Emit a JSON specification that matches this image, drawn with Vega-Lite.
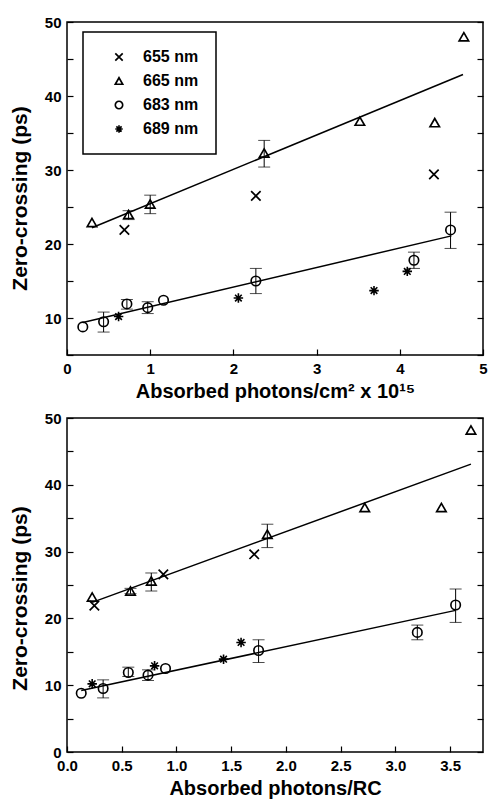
{
  "$schema": "https://vega.github.io/schema/vega-lite/v6.json",
  "background": "white",
  "padding": {"left": 8, "top": 14, "right": 0, "bottom": 3},
  "bounds": "flush",
  "spacing": 63,
  "datasets": {
    "ptsA": [
      {"series": "655 nm", "x": 0.69, "y": 21.9},
      {"series": "655 nm", "x": 2.27, "y": 26.5},
      {"series": "655 nm", "x": 4.41, "y": 29.4},
      {"series": "665 nm", "x": 0.30, "y": 22.9},
      {"series": "665 nm", "x": 0.74, "y": 24.0, "lo": 23.3, "hi": 24.5},
      {"series": "665 nm", "x": 1.00, "y": 25.4, "lo": 24.1, "hi": 26.6},
      {"series": "665 nm", "x": 2.37, "y": 32.3, "lo": 30.4, "hi": 34.0},
      {"series": "665 nm", "x": 3.52, "y": 36.6},
      {"series": "665 nm", "x": 4.42, "y": 36.4},
      {"series": "665 nm", "x": 4.77, "y": 48.0},
      {"series": "683 nm", "x": 0.19, "y": 8.8},
      {"series": "683 nm", "x": 0.44, "y": 9.5, "lo": 8.1, "hi": 10.8},
      {"series": "683 nm", "x": 0.72, "y": 11.9, "lo": 11.2, "hi": 12.5},
      {"series": "683 nm", "x": 0.97, "y": 11.4, "lo": 10.6, "hi": 12.2},
      {"series": "683 nm", "x": 1.16, "y": 12.4},
      {"series": "683 nm", "x": 2.27, "y": 15.0, "lo": 13.3, "hi": 16.7},
      {"series": "683 nm", "x": 4.17, "y": 17.8, "lo": 16.7, "hi": 18.9},
      {"series": "683 nm", "x": 4.61, "y": 21.9, "lo": 19.4, "hi": 24.3},
      {"series": "689 nm", "x": 0.62, "y": 10.2},
      {"series": "689 nm", "x": 2.06, "y": 12.7},
      {"series": "689 nm", "x": 3.69, "y": 13.7},
      {"series": "689 nm", "x": 4.09, "y": 16.3}
    ],
    "ptsB": [
      {"series": "655 nm", "x": 0.25, "y": 21.9},
      {"series": "655 nm", "x": 0.88, "y": 26.6},
      {"series": "655 nm", "x": 1.71, "y": 29.6},
      {"series": "665 nm", "x": 0.23, "y": 23.2},
      {"series": "665 nm", "x": 0.58, "y": 24.1, "lo": 23.7, "hi": 24.5},
      {"series": "665 nm", "x": 0.77, "y": 25.6, "lo": 24.1, "hi": 26.8},
      {"series": "665 nm", "x": 1.83, "y": 32.6, "lo": 30.6, "hi": 34.1},
      {"series": "665 nm", "x": 2.72, "y": 36.6},
      {"series": "665 nm", "x": 3.42, "y": 36.6},
      {"series": "665 nm", "x": 3.69, "y": 48.2},
      {"series": "683 nm", "x": 0.13, "y": 8.8},
      {"series": "683 nm", "x": 0.33, "y": 9.5, "lo": 8.1, "hi": 10.8},
      {"series": "683 nm", "x": 0.56, "y": 11.9, "lo": 11.3, "hi": 12.7},
      {"series": "683 nm", "x": 0.74, "y": 11.5, "lo": 10.7, "hi": 12.3},
      {"series": "683 nm", "x": 0.90, "y": 12.5},
      {"series": "683 nm", "x": 1.75, "y": 15.2, "lo": 13.4, "hi": 16.8},
      {"series": "683 nm", "x": 3.20, "y": 17.9, "lo": 16.8, "hi": 19.0},
      {"series": "683 nm", "x": 3.55, "y": 22.0, "lo": 19.4, "hi": 24.4},
      {"series": "689 nm", "x": 0.23, "y": 10.2},
      {"series": "689 nm", "x": 0.80, "y": 12.9},
      {"series": "689 nm", "x": 1.43, "y": 13.9},
      {"series": "689 nm", "x": 1.59, "y": 16.4}
    ],
    "linesA": [
      {"pool": "blue", "x": 0.30, "y": 22.2},
      {"pool": "blue", "x": 4.76, "y": 42.9},
      {"pool": "red", "x": 0.19, "y": 9.4},
      {"pool": "red", "x": 4.62, "y": 21.1}
    ],
    "linesB": [
      {"pool": "blue", "x": 0.23, "y": 22.4},
      {"pool": "blue", "x": 3.69, "y": 43.1},
      {"pool": "red", "x": 0.13, "y": 9.2},
      {"pool": "red", "x": 3.55, "y": 21.2}
    ]
  },
  "vconcat": [
    {
      "width": 416,
      "height": 333,
      "layer": [
        {
          "data": {"name": "linesA"},
          "mark": {"type": "line", "color": "black", "strokeWidth": 1.5},
          "encoding": {
            "x": {"field": "x", "type": "quantitative", "scale": {"domain": [0, 5], "nice": false}},
            "y": {"field": "y", "type": "quantitative", "scale": {"domain": [5, 50], "nice": false},
                  "axis": {"orient": "right", "labels": false, "title": null, "values": [5,10,15,20,25,30,35,40,45,50]}},
            "detail": {"field": "pool"}
          }
        },
        {
          "data": {"name": "ptsA"},
          "transform": [{"filter": "isValid(datum.lo)"}],
          "mark": {"type": "rule", "color": "black", "strokeWidth": 1},
          "encoding": {
            "x": {"field": "x", "type": "quantitative"},
            "y": {"field": "lo", "type": "quantitative", "axis": null},
            "y2": {"field": "hi"}
          }
        },
        {
          "data": {"name": "ptsA"},
          "transform": [{"filter": "isValid(datum.lo)"}],
          "mark": {"type": "tick", "orient": "horizontal", "color": "black", "size": 12, "thickness": 1},
          "encoding": {
            "x": {"field": "x", "type": "quantitative"},
            "y": {"field": "lo", "type": "quantitative", "axis": null}
          }
        },
        {
          "data": {"name": "ptsA"},
          "transform": [{"filter": "isValid(datum.hi)"}],
          "mark": {"type": "tick", "orient": "horizontal", "color": "black", "size": 12, "thickness": 1},
          "encoding": {
            "x": {"field": "x", "type": "quantitative"},
            "y": {"field": "hi", "type": "quantitative", "axis": null}
          }
        },
        {
          "data": {"name": "ptsA"},
          "mark": {"type": "point", "filled": false, "stroke": "black", "size": 90, "opacity": 1},
          "encoding": {
            "x": {"field": "x", "type": "quantitative",
                  "axis": {"title": "Absorbed photons/cm² x 10¹⁵", "values": [0,0.5,1,1.5,2,2.5,3,3.5,4,4.5,5],
                           "format": "d", "labelExpr": "datum.value % 1 === 0 ? datum.label : ''"}},
            "y": {"field": "y", "type": "quantitative",
                  "axis": {"title": "Zero-crossing (ps)", "titleY": 176, "values": [5,10,15,20,25,30,35,40,45,50],
                           "labelExpr": "datum.value % 10 === 0 ? datum.label : ''"}},
            "strokeWidth": {
              "field": "series", "type": "nominal",
              "scale": {"domain": ["655 nm", "665 nm", "683 nm", "689 nm"], "range": [1.7, 1.6, 1.6, 2.6]},
              "legend": null
            },
            "shape": {
              "field": "series", "type": "nominal",
              "scale": {
                "domain": ["655 nm", "665 nm", "683 nm", "689 nm"],
                "range": ["M-1,-1L1,1M-1,1L1,-1", "triangle-up", "circle", "M-1,0L1,0M0,-1L0,1M-0.7,-0.7L0.7,0.7M-0.7,0.7L0.7,-0.7"]
              },
              "legend": {
                "orient": "none", "legendX": 16, "legendY": 10, "title": null,
                "strokeColor": "black", "padding": 17, "rowPadding": 8,
                "symbolOffset": 11, "labelOffset": 16, "symbolSize": 55, "symbolStrokeColor": "black",
                "symbolStrokeWidth": 1.7, "symbolFillColor": "transparent",
                "labelFont": "Liberation Sans", "labelFontWeight": "bold", "labelFontSize": 16, "labelColor": "black"
              }
            }
          }
        },
        {
          "mark": {"type": "text", "text": "A)", "font": "Liberation Sans", "fontWeight": "bold", "fontSize": 19, "color": "black"},
          "encoding": {
            "x": {"datum": 2.97, "type": "quantitative"},
            "y": {"datum": 46.1, "type": "quantitative", "axis": null}
          }
        }
      ],
      "resolve": {"axis": {"y": "independent"}}
    },
    {
      "width": 416,
      "height": 334,
      "layer": [
        {
          "data": {"name": "linesB"},
          "mark": {"type": "line", "color": "black", "strokeWidth": 1.5},
          "encoding": {
            "x": {"field": "x", "type": "quantitative", "scale": {"domain": [0, 3.8], "nice": false}},
            "y": {"field": "y", "type": "quantitative", "scale": {"domain": [0, 50], "nice": false},
                  "axis": {"orient": "right", "labels": false, "title": null, "values": [0,5,10,15,20,25,30,35,40,45,50]}},
            "detail": {"field": "pool"}
          }
        },
        {
          "data": {"name": "ptsB"},
          "transform": [{"filter": "isValid(datum.lo)"}],
          "mark": {"type": "rule", "color": "black", "strokeWidth": 1},
          "encoding": {
            "x": {"field": "x", "type": "quantitative"},
            "y": {"field": "lo", "type": "quantitative", "axis": null},
            "y2": {"field": "hi"}
          }
        },
        {
          "data": {"name": "ptsB"},
          "transform": [{"filter": "isValid(datum.lo)"}],
          "mark": {"type": "tick", "orient": "horizontal", "color": "black", "size": 12, "thickness": 1},
          "encoding": {
            "x": {"field": "x", "type": "quantitative"},
            "y": {"field": "lo", "type": "quantitative", "axis": null}
          }
        },
        {
          "data": {"name": "ptsB"},
          "transform": [{"filter": "isValid(datum.hi)"}],
          "mark": {"type": "tick", "orient": "horizontal", "color": "black", "size": 12, "thickness": 1},
          "encoding": {
            "x": {"field": "x", "type": "quantitative"},
            "y": {"field": "hi", "type": "quantitative", "axis": null}
          }
        },
        {
          "data": {"name": "ptsB"},
          "mark": {"type": "point", "filled": false, "stroke": "black", "size": 90, "opacity": 1},
          "encoding": {
            "x": {"field": "x", "type": "quantitative",
                  "axis": {"title": "Absorbed photons/RC", "values": [0,0.5,1,1.5,2,2.5,3,3.5], "format": ".1f"}},
            "y": {"field": "y", "type": "quantitative",
                  "axis": {"title": "Zero-crossing (ps)", "titleY": 180, "values": [0,5,10,15,20,25,30,35,40,45,50],
                           "labelExpr": "datum.value % 10 === 0 ? datum.label : ''"}},
            "strokeWidth": {
              "field": "series", "type": "nominal",
              "scale": {"domain": ["655 nm", "665 nm", "683 nm", "689 nm"], "range": [1.7, 1.6, 1.6, 2.6]},
              "legend": null
            },
            "shape": {
              "field": "series", "type": "nominal",
              "scale": {
                "domain": ["655 nm", "665 nm", "683 nm", "689 nm"],
                "range": ["M-1,-1L1,1M-1,1L1,-1", "triangle-up", "circle", "M-1,0L1,0M0,-1L0,1M-0.7,-0.7L0.7,0.7M-0.7,0.7L0.7,-0.7"]
              },
              "legend": null
            }
          }
        },
        {
          "mark": {"type": "text", "text": "B)", "font": "Liberation Sans", "fontWeight": "bold", "fontSize": 19, "color": "black"},
          "encoding": {
            "x": {"datum": 2.23, "type": "quantitative"},
            "y": {"datum": 46.1, "type": "quantitative", "axis": null}
          }
        },
        {
          "mark": {"type": "text", "text": "\"blue\" pool", "font": "Liberation Sans", "fontWeight": "bold", "fontSize": 18, "color": "black"},
          "encoding": {
            "x": {"datum": 2.44, "type": "quantitative"},
            "y": {"datum": 40.0, "type": "quantitative", "axis": null}
          }
        },
        {
          "mark": {"type": "text", "text": "\"red\" pool", "font": "Liberation Sans", "fontWeight": "bold", "fontSize": 18, "color": "black"},
          "encoding": {
            "x": {"datum": 2.61, "type": "quantitative"},
            "y": {"datum": 13.6, "type": "quantitative", "axis": null}
          }
        }
      ],
      "resolve": {"axis": {"y": "independent"}}
    }
  ],
  "resolve": {"scale": {"shape": "independent", "strokeWidth": "independent"}, "legend": {"shape": "independent", "strokeWidth": "independent"}},
  "config": {
    "view": {"stroke": "black", "strokeWidth": 1.5},
    "legend": {"strokeColor": "black", "strokeWidth": 1.5},
    "axis": {
      "domain": false,
      "grid": false,
      "tickColor": "black",
      "tickWidth": 1.2,
      "tickSize": -6,
      "labelFont": "Liberation Sans",
      "labelFontWeight": "bold",
      "labelFontSize": 15,
      "labelColor": "black",
      "labelFlush": false,
      "labelPadding": 12,
      "labelOverlap": false,
      "titleFont": "Liberation Sans",
      "titleFontWeight": "bold",
      "titleFontSize": 20,
      "titleColor": "black"
    },
    "axisX": {"titlePadding": 5},
    "axisY": {"titlePadding": 14, "titleFontSize": 21}
  }
}
